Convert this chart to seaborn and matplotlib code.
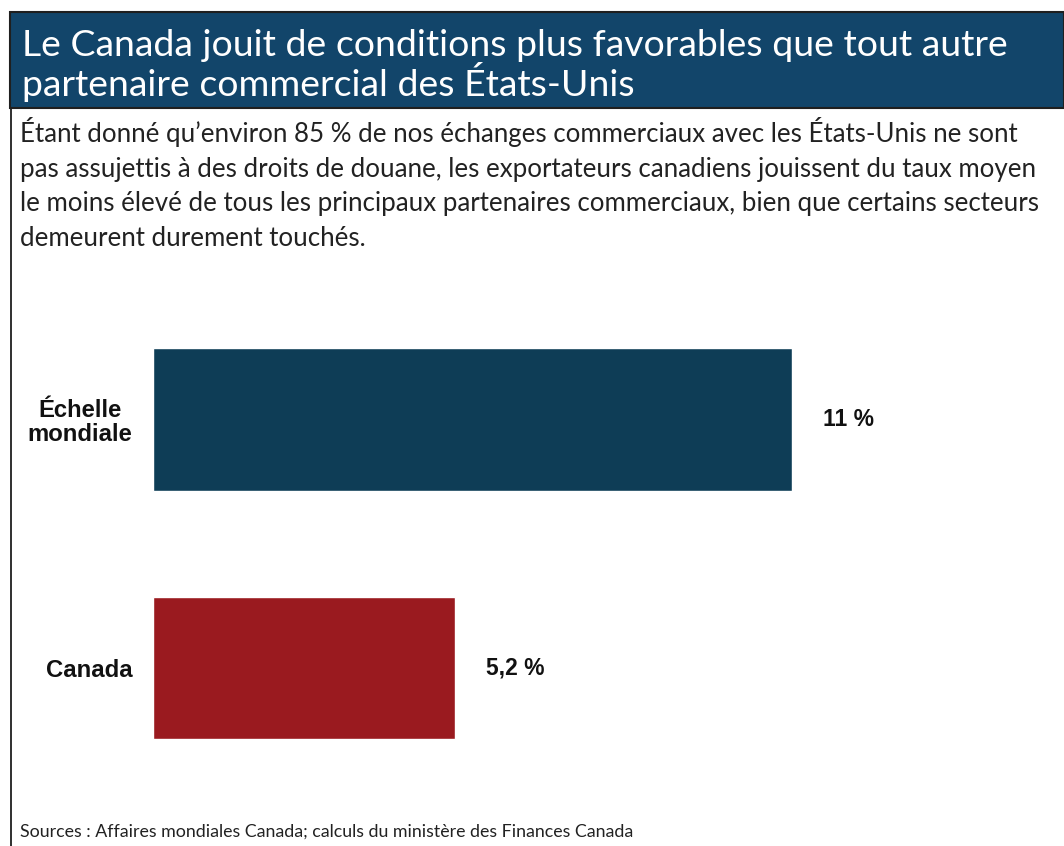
import matplotlib
matplotlib.use("Agg")
import matplotlib.pyplot as plt
from matplotlib.patches import Rectangle
from matplotlib.lines import Line2D
import seaborn as sns
import pandas as pd

# Data
categories = ["Échelle\nmondiale", "Canada"]
tariff_rates = [11.0, 5.2]
rate_labels = ["11 %", "5,2 %"]
bar_colors = ["#0e3d56", "#9a1a1f"]

title_lines = [
    "Le Canada jouit de conditions plus favorables que tout autre",
    "partenaire commercial des États-Unis",
]
subtitle_lines = [
    "Étant donné qu’environ 85 % de nos échanges commerciaux avec les États-Unis ne sont",
    "pas assujettis à des droits de douane, les exportateurs canadiens jouissent du taux moyen",
    "le moins élevé de tous les principaux partenaires commerciaux, bien que certains secteurs",
    "demeurent durement touchés.",
]
source = "Sources : Affaires mondiales Canada; calculs du ministère des Finances Canada"

sns.set_theme(style="white")
plt.rcParams["font.family"] = ["Lato", "DejaVu Sans"]

W, H = 1064, 846
fig = plt.figure(figsize=(W / 100, H / 100), dpi=100)
fig.patch.set_facecolor("white")


def fx(px):
    return px / W


def fy(py):
    return 1 - py / H


# Title banner and frame
fig.patches.append(Rectangle((fx(10), fy(108)), fx(1064 - 10), 96 / H,
                             transform=fig.transFigure, facecolor="#12456a",
                             edgecolor="#1f1f1f", linewidth=1.5, zorder=0))
fig.lines.append(Line2D([fx(10.5), fx(10.5)], [fy(108), 0],
                        transform=fig.transFigure, color="#1f1f1f", linewidth=1.3))

for i, line in enumerate(title_lines):
    fig.text(fx(22), fy(56 + i * 40), line, color="white", fontsize=26.9,
             ha="left", va="baseline")

for i, line in enumerate(subtitle_lines):
    fig.text(fx(20), fy(142 + i * 34.5), line, color="#222222", fontsize=18.6,
             ha="left", va="baseline")

fig.text(fx(20), fy(837), source, color="#222222", fontsize=12.8,
         ha="left", va="baseline")

# Bar chart
ax = fig.add_axes([fx(153), 1 - 792.25 / H, 639 / W, 497 / H])
df = pd.DataFrame({"categorie": categories, "taux": tariff_rates})
sns.barplot(data=df, x="taux", y="categorie", hue="categorie",
            palette=bar_colors, orient="h", width=0.575, legend=False,
            saturation=1, ax=ax)
ax.set_xlim(0, 11)
ax.set_ylim(1.5, -0.5)
ax.set_xlabel("")
ax.set_ylabel("")
ax.set_xticks([])
for s in ax.spines.values():
    s.set_visible(False)
ax.tick_params(axis="y", length=0, pad=15)
for lab in ax.get_yticklabels():
    lab.set_fontfamily(["Liberation Sans", "DejaVu Sans"])
    lab.set_fontweight("bold")
    lab.set_fontsize(17.2)
    lab.set_color("#111111")
    lab.set_multialignment("center")
    lab.set_linespacing(1.05)

for bar, text in zip(ax.patches, rate_labels):
    ax.annotate(text, (bar.get_width(), bar.get_y() + bar.get_height() / 2),
                xytext=(31, 0), textcoords="offset pixels",
                ha="left", va="center", fontsize=16.5, fontweight="bold",
                family=["Liberation Sans", "DejaVu Sans"], color="#111111")

fig.savefig("out.png", dpi=100)
